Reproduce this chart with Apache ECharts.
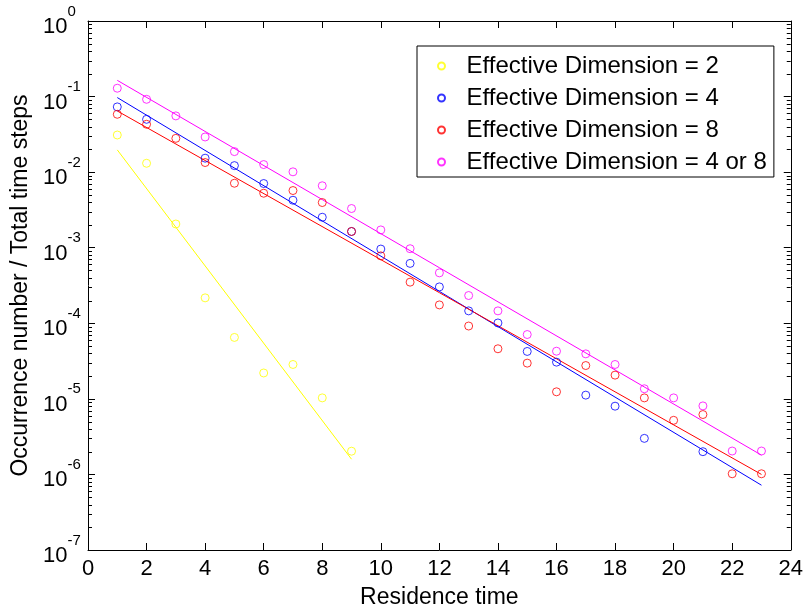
<!DOCTYPE html>
<html><head><meta charset="utf-8">
<script src="https://cdn.jsdelivr.net/npm/echarts@6/dist/echarts.min.js"></script>
<style>html,body{margin:0;padding:0;background:#fff}#c{width:806px;height:614px}</style>
</head><body><div id="c"></div>
<script>
// ---- data ----
const residenceTime = [1,2,3,4,5,6,7,8,9,10,11,12,13,14,15,16,17,18,19,20,21,22,23];
const dim2Values = [0.031, 0.0131, 0.00206, 2.17e-4, 6.5e-5, 2.2e-5, 2.85e-5, 1.03e-5, 2.03e-6];
const dim4Values = [0.073, 0.050, null, 0.0153, 0.0122, 0.00707, 0.00425, 0.00253, 0.00164, 9.6e-4,
  6.2e-4, 3.03e-4, 1.46e-4, 1.01e-4, 4.24e-5, 3.06e-5, 1.12e-5, 8.0e-6, 3.0e-6, null, 2.0e-6, null, null];
const dim8Values = [0.0583, 0.043, 0.028, 0.0134, 0.00713, 0.00526, 0.00571, 0.00396, 0.00164, 7.8e-4,
  3.5e-4, 1.75e-4, 9.2e-5, 4.6e-5, 2.97e-5, 1.24e-5, 2.76e-5, 2.06e-5, 1.03e-5, 5.2e-6, 6.2e-6, 1.02e-6, 1.02e-6];
const dim48Values = [0.129, 0.092, 0.0555, 0.0292, 0.0187, 0.0126, 0.0101, 0.0066, 0.0033, 0.00172,
  9.7e-4, 4.65e-4, 2.33e-4, 1.46e-4, 7.1e-5, 4.27e-5, 3.94e-5, 2.85e-5, 1.36e-5, 1.03e-5, 8.07e-6, 2.04e-6, 2.04e-6];
// fitted lines (endpoints)
const fit2X = [1, 9];
const fit2Values = [0.0197, 1.59e-6];
const fitX = [1, 23];
const fit4Values = [0.097, 7.2e-7];
const fit8Values = [0.0645, 1.0e-6];
const fit48Values = [0.164, 1.8e-6];
// labels
const seriesNames = ['Effective Dimension = 2','Effective Dimension = 4','Effective Dimension = 8','Effective Dimension = 4 or 8'];
const xTicks = [0,2,4,6,8,10,12,14,16,18,20,22,24];
const yTickExponents = [0,-1,-2,-3,-4,-5,-6,-7];
const xTitle = 'Residence time';
const yTitle = 'Occurrence number / Total time steps';

const colors = ['#ffff00','#0000ff','#ff0000','#ff00ff'];
const FONT = "'Liberation Sans', Arial, Helvetica, sans-serif";

const pairs = (xs, ys) => xs.map((x,i)=>[x, ys[i]]);
const pointSets = [dim2Values, dim4Values, dim8Values, dim48Values];
const fitSets = [[fit2X, fit2Values],[fitX, fit4Values],[fitX, fit8Values],[fitX, fit48Values]];

// minor ticks of the log axis (2..9 in each decade)
const minorTicks = [];
for (let e = yTickExponents[yTickExponents.length-1]; e < yTickExponents[0]; e++) {
  for (let k = 2; k <= 9; k++) minorTicks.push([0, k * Math.pow(10, e)]);
}

const series = [];
pointSets.forEach((vals, i) => {
  series.push({
    name: seriesNames[i], type: 'scatter', symbol: 'circle', symbolSize: 8,
    itemStyle: {color: 'rgba(255,255,255,0)', borderColor: colors[i], borderWidth: 1},
    data: pairs(residenceTime.slice(0, vals.length), vals).filter(p => p[1] != null),
    z: 3
  });
});
fitSets.forEach((f, i) => {
  series.push({
    name: 'fit' + i, type: 'line', showSymbol: false, symbol: 'none',
    lineStyle: {color: colors[i], width: 1}, itemStyle: {color: colors[i]},
    data: pairs(f[0], f[1]), z: 2
  });
});
series.push({
  type: 'custom', silent: true, clip: false, z: 5,
  data: minorTicks, encode: {x: 0, y: 1},
  renderItem(params, api) {
    const y = Math.round(api.coord([0, api.value(1)])[1]) + 0.5;
    const cs = params.coordSys;
    return {type: 'group', children: [
      {type: 'line', shape: {x1: cs.x, y1: y, x2: cs.x + 4, y2: y}, style: {stroke: '#000', lineWidth: 1}},
      {type: 'line', shape: {x1: cs.x + cs.width - 4, y1: y, x2: cs.x + cs.width, y2: y}, style: {stroke: '#000', lineWidth: 1}}
    ]};
  }
});

const axisLine = {show: true, onZero: false, lineStyle: {color: '#000', width: 1}};
const tick = {show: true, inside: true, length: 7, lineStyle: {color: '#000'}};

const option = {
  animation: false,
  backgroundColor: '#fff',
  textStyle: {fontFamily: FONT},
  grid: {left: 88, right: 13, top: 21, bottom: 63, containLabel: false},
  legend: {
    data: seriesNames, orient: 'vertical', left: 417, top: 46,
    padding: [8, 7, 3, 20], itemWidth: 40, itemHeight: 7, itemGap: 8,
    backgroundColor: '#fff', borderColor: '#000', borderWidth: 1, borderRadius: 0,
    selectedMode: false,
    textStyle: {fontSize: 24, color: '#000', lineHeight: 24, fontFamily: FONT}
  },
  xAxis: [
    {type: 'value', min: xTicks[0], max: xTicks[xTicks.length-1], interval: 2, position: 'bottom',
     axisLine, axisTick: tick, splitLine: {show: false},
     axisLabel: {fontSize: 22, color: '#000', margin: 8, fontFamily: FONT},
     name: xTitle, nameLocation: 'middle', nameGap: 36,
     nameTextStyle: {fontSize: 23, color: '#000', fontFamily: FONT}},
    {type: 'value', min: xTicks[0], max: xTicks[xTicks.length-1], interval: 2, position: 'top',
     axisLine, axisTick: tick, splitLine: {show: false}, axisLabel: {show: false}}
  ],
  yAxis: [
    {type: 'log', logBase: 10, min: Math.pow(10, yTickExponents[yTickExponents.length-1]), max: Math.pow(10, yTickExponents[0]),
     interval: 1, splitNumber: 7, position: 'left',
     axisLine, axisTick: tick, splitLine: {show: false},
     axisLabel: {
       align: 'left', margin: 45, color: '#000',
       formatter: v => '{b|10}{s|' + Math.round(Math.log10(v)) + '}',
       rich: {
         b: {fontSize: 22, lineHeight: 34, verticalAlign: 'bottom', color: '#000', fontFamily: FONT},
         s: {fontSize: 15, lineHeight: 15, verticalAlign: 'top', color: '#000', fontFamily: FONT}
       }
     },
     name: yTitle, nameLocation: 'middle', nameGap: 53, nameRotate: 90,
     nameTextStyle: {fontSize: 23, color: '#000', fontFamily: FONT}},
    {type: 'log', logBase: 10, min: Math.pow(10, yTickExponents[yTickExponents.length-1]), max: Math.pow(10, yTickExponents[0]),
     interval: 1, splitNumber: 7, position: 'right',
     axisLine, axisTick: tick, splitLine: {show: false}, axisLabel: {show: false}}
  ],
  series
};
const chart = echarts.init(document.getElementById('c'), null, {renderer: 'canvas'});
chart.setOption(option);
</script>
</body></html>
